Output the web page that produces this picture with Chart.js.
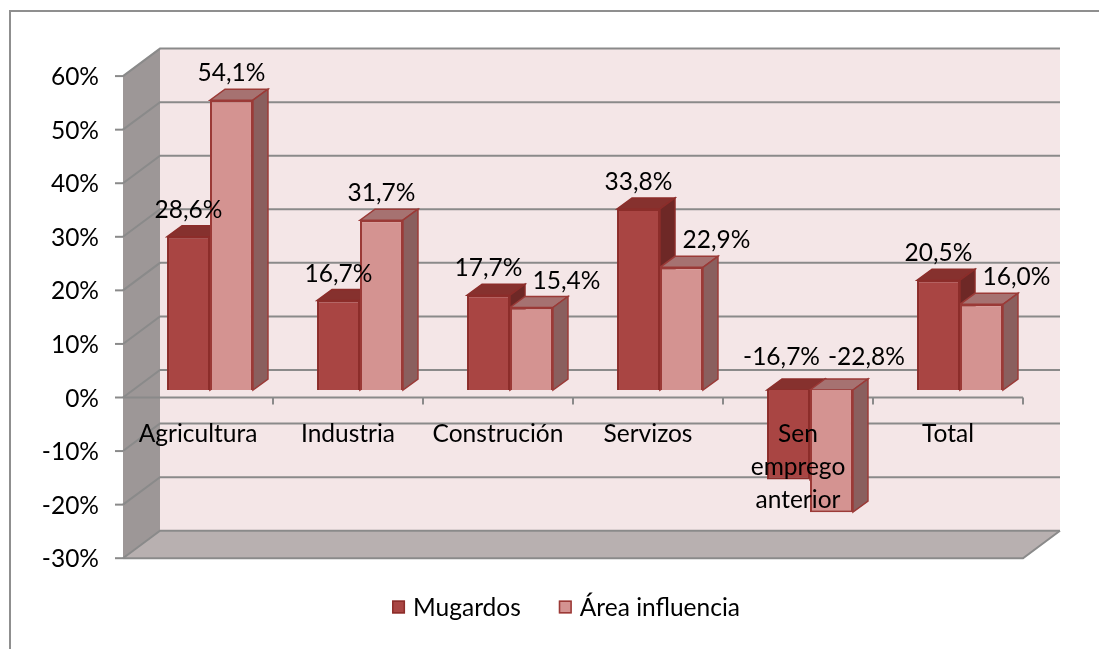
<!DOCTYPE html>
<html>
<head>
<meta charset="utf-8">
<script src="https://cdn.jsdelivr.net/npm/chart.js@4.4.1/dist/chart.umd.min.js"></script>
<style>
  html, body { margin: 0; padding: 0; background: #fff; overflow: hidden; }
  #wrap { position: relative; width: 1099px; height: 649px; }
  #frame { position: absolute; left: 9px; top: 10px; width: 1200px; height: 800px; border-left: 2px solid #8f8f8f; border-top: 2px solid #8f8f8f; }
  #chart { position: absolute; left: 0; top: 0; }
</style>
</head>
<body>
<div id="wrap">
  <div id="frame"></div>
  <canvas id="chart" width="1099" height="649"></canvas>
</div>
<script>
  const categories = ["Agricultura", "Industria", "Construción", "Servizos", ["Sen", "emprego", "anterior"], "Total"];
  const mugardos = [28.6, 16.7, 17.7, 33.8, -16.7, 20.5];
  const areaInfluencia = [54.1, 31.7, 15.4, 22.9, -22.8, 16.0];
  const yTicks = [-30, -20, -10, 0, 10, 20, 30, 40, 50, 60];
  const seriesNames = ["Mugardos", "Área influencia"];

  const FONT = "Lato, 'Open Sans', sans-serif";
  const FS = 24.5;

  // 3D offsets relative to the plane the bars' front faces sit on
  const FRONT = { dx: -12, dy: 7.5 };
  const BACK = { dx: 25, dy: -20 };
  const DEPTH = { dx: 15, dy: -11 };

  const faces = [
    { front: "#a94543", top: "#86312e", side: "#6e2826", border: "#8c2d2a" },
    { front: "#d49391", top: "#a67271", side: "#8a5f5e", border: "#9b3a37" },
  ];

  const fmt = (v) => v.toFixed(1).replace(".", ",") + "%";

  function poly(ctx, pts, fill, stroke, lw) {
    ctx.beginPath();
    ctx.moveTo(pts[0][0], pts[0][1]);
    for (let i = 1; i < pts.length; i++) ctx.lineTo(pts[i][0], pts[i][1]);
    ctx.closePath();
    if (fill) { ctx.fillStyle = fill; ctx.fill(); }
    if (stroke) { ctx.strokeStyle = stroke; ctx.lineWidth = lw || 1; ctx.stroke(); }
  }

  const box3d = {
    id: "box3d",
    beforeDatasetsDraw(chart) {
      const { ctx, chartArea: a, scales: { y } } = chart;
      const yMin = y.getPixelForValue(yTicks[0]);
      const yMax = y.getPixelForValue(yTicks[yTicks.length - 1]);
      const L = a.left, R = a.right;
      ctx.save();

      // back wall
      poly(ctx, [[L + BACK.dx, yMax + BACK.dy], [R + BACK.dx, yMax + BACK.dy], [R + BACK.dx, yMin + BACK.dy], [L + BACK.dx, yMin + BACK.dy]], "#f4e6e7");
      // left wall
      poly(ctx, [[L + FRONT.dx, yMax + FRONT.dy], [L + BACK.dx, yMax + BACK.dy], [L + BACK.dx, yMin + BACK.dy], [L + FRONT.dx, yMin + FRONT.dy]], "#9d9797");
      // floor
      poly(ctx, [[L + FRONT.dx, yMin + FRONT.dy], [L + BACK.dx, yMin + BACK.dy], [R + BACK.dx, yMin + BACK.dy], [R + FRONT.dx, yMin + FRONT.dy]], "#b8b0b0");

      // gridlines on back and left walls, tick marks and labels on the front edge
      ctx.lineWidth = 2;
      ctx.strokeStyle = "#8a8a8a";
      ctx.font = `${FS}px ${FONT}`;
      ctx.fillStyle = "#000";
      ctx.textAlign = "right";
      ctx.textBaseline = "alphabetic";
      yTicks.forEach((v) => {
        const py = y.getPixelForValue(v);
        ctx.beginPath();
        ctx.moveTo(L + FRONT.dx, py + FRONT.dy);
        ctx.lineTo(L + BACK.dx, py + BACK.dy);
        ctx.lineTo(R + BACK.dx, py + BACK.dy);
        ctx.stroke();
        ctx.beginPath();
        ctx.moveTo(L + FRONT.dx - 8, py + FRONT.dy);
        ctx.lineTo(L + FRONT.dx, py + FRONT.dy);
        ctx.stroke();
        ctx.fillText(v + "%", L + FRONT.dx - 24, py + FRONT.dy + 9);
      });

      // floor front and right edges
      ctx.beginPath();
      ctx.moveTo(L + FRONT.dx, yMin + FRONT.dy);
      ctx.lineTo(R + FRONT.dx, yMin + FRONT.dy);
      ctx.lineTo(R + BACK.dx, yMin + BACK.dy);
      ctx.stroke();

      // category axis at zero, front plane
      const y0 = y.getPixelForValue(0) + FRONT.dy;
      ctx.beginPath();
      ctx.moveTo(L + FRONT.dx, y0);
      ctx.lineTo(R + FRONT.dx, y0);
      const step = (R - L) / categories.length;
      for (let k = 1; k <= categories.length; k++) {
        ctx.moveTo(L + FRONT.dx + k * step, y0);
        ctx.lineTo(L + FRONT.dx + k * step, y0 + 7);
      }
      ctx.stroke();

      // top and side faces of the bars (front faces come from Chart.js)
      chart.data.datasets.forEach((ds, di) => {
        const f = faces[di];
        chart.getDatasetMeta(di).data.forEach((bar) => {
          const p = bar.getProps(["x", "y", "base", "width"], true);
          const l = p.x - p.width / 2, r = p.x + p.width / 2;
          const t = Math.min(p.y, p.base), b = Math.max(p.y, p.base);
          poly(ctx, [[l, t], [r, t], [r + DEPTH.dx, t + DEPTH.dy], [l + DEPTH.dx, t + DEPTH.dy]], f.top, f.border, 1.5);
          poly(ctx, [[r, t], [r + DEPTH.dx, t + DEPTH.dy], [r + DEPTH.dx, b + DEPTH.dy], [r, b]], f.side, f.border, 1.5);
        });
      });
      ctx.restore();
    },
    afterDatasetsDraw(chart) {
      const { ctx, chartArea: a, scales: { y } } = chart;
      ctx.save();
      ctx.font = `${FS}px ${FONT}`;
      ctx.fillStyle = "#000";
      ctx.textAlign = "center";
      ctx.textBaseline = "alphabetic";

      // value labels
      const y0 = y.getPixelForValue(0);
      chart.data.datasets.forEach((ds, di) => {
        chart.getDatasetMeta(di).data.forEach((bar, i) => {
          const v = ds.data[i];
          let lx = bar.x, ly;
          if (v >= 0) ly = bar.y - 28;
          else ly = y0 - 34;
          if (di === 1 && v < chart.data.datasets[0].data[i]) lx += 35;
          if (di === 0 && v < 0) lx -= 7;
          ctx.fillText(fmt(v), lx, ly + 9);
        });
      });

      // category labels
      const step = (a.right - a.left) / categories.length;
      const cy = y0 + FRONT.dy + 35;
      categories.forEach((c, i) => {
        const cx = a.left + FRONT.dx + step * (i + 0.5);
        const lines = Array.isArray(c) ? c : [c];
        lines.forEach((ln, j) => ctx.fillText(ln, cx, cy + j * 33 + 9));
      });

      // legend
      ctx.textAlign = "left";
      const gapIn = 8, gapOut = 38, sq = 13;
      const widths = seriesNames.map((n) => ctx.measureText(n).width);
      const total = widths.reduce((s, w) => s + sq + gapIn + w, 0) + gapOut;
      let lx = 566 - total / 2;
      const ly = 607;
      seriesNames.forEach((n, i) => {
        ctx.fillStyle = faces[i].front;
        ctx.fillRect(lx, ly - sq / 2, sq, sq);
        ctx.strokeStyle = faces[i].border;
        ctx.lineWidth = 1.5;
        ctx.strokeRect(lx + 0.75, ly - sq / 2 + 0.75, sq - 1.5, sq - 1.5);
        ctx.fillStyle = "#000";
        ctx.fillText(n, lx + sq + gapIn, ly + 9);
        lx += sq + gapIn + widths[i] + gapOut;
      });
      ctx.restore();
    },
  };

  new Chart(document.getElementById("chart"), {
    type: "bar",
    data: {
      labels: categories,
      datasets: [
        { label: seriesNames[0], data: mugardos, backgroundColor: faces[0].front, borderColor: faces[0].border, borderWidth: 2 },
        { label: seriesNames[1], data: areaInfluencia, backgroundColor: faces[1].front, borderColor: faces[1].border, borderWidth: 2 },
      ],
    },
    options: {
      responsive: false,
      animation: false,
      devicePixelRatio: 1,
      layout: { padding: { left: 135, right: 64, top: 68.6, bottom: 98.3 } },
      datasets: { bar: { categoryPercentage: 0.573, barPercentage: 1 } },
      plugins: { legend: { display: false }, tooltip: { enabled: false } },
      scales: {
        x: { display: false },
        y: { display: false, min: -30, max: 60, ticks: { stepSize: 10 } },
      },
    },
    plugins: [box3d],
  });
</script>
</body>
</html>
